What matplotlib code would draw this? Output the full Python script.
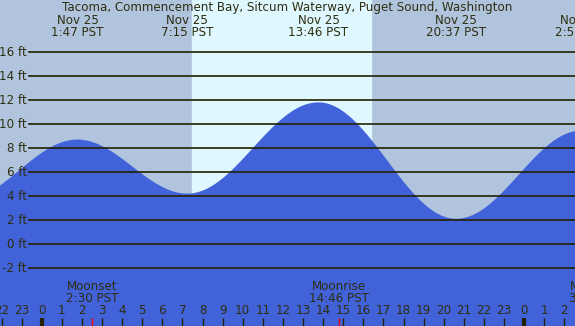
import numpy as np
import matplotlib
matplotlib.use("Agg")
import matplotlib.pyplot as plt

# tide extremes, hours from midnight Nov 25 (PST), heights in ft
ext_hours = [-4.0, 1.78, 7.25, 13.77, 20.62, 26.85]
ext_heights = [3.6, 8.7, 4.2, 11.8, 2.1, 9.45]
ext_dates = ["Nov 24", "Nov 25", "Nov 25", "Nov 25", "Nov 25", "Nov 26"]
ext_times = ["20:00 PST", "1:47 PST", "7:15 PST", "13:46 PST", "20:37 PST", "2:51 PST"]

sunrise = 7.5
sunset = 16.37

moon_hours = [2.5, 14.77, 27.55]
moon_names = ["Moonset", "Moonrise", "Moonset"]
moon_times = ["2:30 PST", "14:46 PST", "3:33 PST"]

hour_ticks = list(range(-2, 27))
ft_ticks = list(range(-2, 17, 2))

title = "Tacoma, Commencement Bay, Sitcum Waterway, Puget Sound, Washington"

night = "#b0c4de"
day = "#dff7ff"
water = "#4162d9"
ink = "#2e2e10"

# curve between extremes (cosine shape, as tide tables do)
t = np.linspace(ext_hours[0], ext_hours[-1], 2000)
h = np.empty_like(t)
for i in range(len(ext_hours) - 1):
    t0, t1 = ext_hours[i], ext_hours[i + 1]
    h0, h1 = ext_heights[i], ext_heights[i + 1]
    m = (t >= t0) & (t <= t1)
    h[m] = h0 + (h1 - h0) * (1 - np.cos(np.pi * (t[m] - t0) / (t1 - t0))) / 2

W, H = 575, 326
px_hr = 20.1
x0_px = 41.7
fig = plt.figure(figsize=(W / 100, H / 100), dpi=100)
ax = fig.add_axes([0, 0, 1, 1])
ax.set_xlim(-x0_px / px_hr, (W - x0_px) / px_hr)
ax.set_ylim((244 - H) / 12, 244 / 12)
ax.axis("off")

fs = 8.6
ax.axvspan(ax.get_xlim()[0], ax.get_xlim()[1], color=night, zorder=0)
ax.axvspan(sunrise, sunset, color=day, zorder=1)
ax.fill_between(t, h, ax.get_ylim()[0], color=water, lw=0, zorder=2)

ytr = ax.get_yaxis_transform()
for v in ft_ticks:
    ax.plot([29 / W, 1], [v, v], color="#222200", lw=1.2, transform=ytr, zorder=3)
    ax.text(27 / W, v, f"{v} ft", ha="right", va="center", fontsize=fs,
            color=ink, transform=ytr, zorder=4)

xtr = ax.get_xaxis_transform()
ax.text(0.5, 1 - 7 / H, title, ha="center", va="center", fontsize=fs,
        color=ink, transform=ax.transAxes, zorder=4)
for hr, d, tm in zip(ext_hours, ext_dates, ext_times):
    if hr < ax.get_xlim()[0]:
        continue
    ax.text(hr, 1 - 20 / H, d, ha="center", va="center", fontsize=fs,
            color=ink, transform=xtr, zorder=4)
    ax.text(hr, 1 - 32 / H, tm, ha="center", va="center", fontsize=fs,
            color=ink, transform=xtr, zorder=4)

for hr in hour_ticks:
    lbl = hr % 24
    ax.text(hr, 1 - 311 / H, str(lbl), ha="center", va="center", fontsize=fs,
            color=ink, transform=xtr, zorder=4)
    ax.plot([hr, hr], [0, 8 / H], color="#222200", lw=3 if lbl == 0 else 1,
            transform=xtr, zorder=4, solid_capstyle="butt")

for hr, nm, tm in zip(moon_hours, moon_names, moon_times):
    ax.plot([hr, hr], [0, 8 / H], color="red", lw=1, transform=xtr,
            zorder=5, solid_capstyle="butt")
    ax.text(hr, 1 - 287 / H, nm, ha="center", va="center", fontsize=fs,
            color=ink, transform=xtr, zorder=4)
    ax.text(hr, 1 - 299 / H, tm, ha="center", va="center", fontsize=fs,
            color=ink, transform=xtr, zorder=4)

fig.savefig("out.png", dpi=100)
